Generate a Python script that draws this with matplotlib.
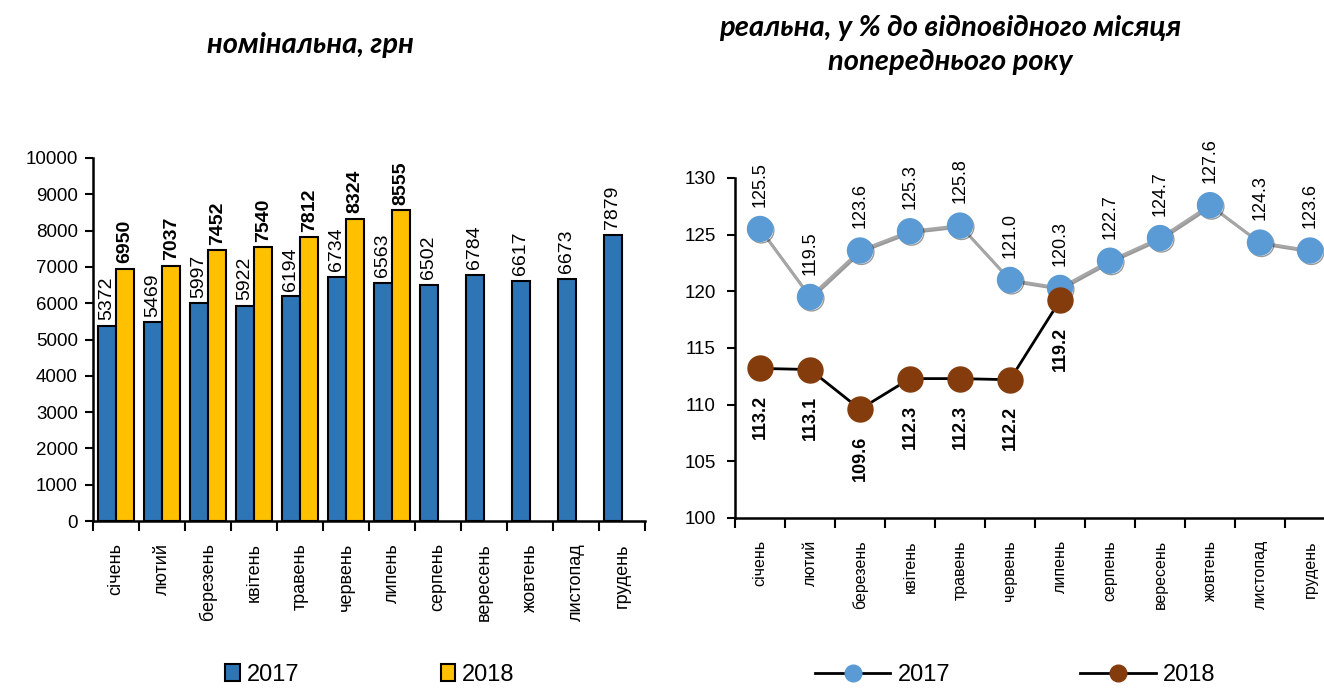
import numpy as np
import matplotlib
matplotlib.use("Agg")
import matplotlib.pyplot as plt
import matplotlib.patheffects as pe
from matplotlib.lines import Line2D

# дані
misyatsi = ["січень", "лютий", "березень", "квітень", "травень", "червень",
            "липень", "серпень", "вересень", "жовтень", "листопад", "грудень"]
nom_2017 = [5372, 5469, 5997, 5922, 6194, 6734, 6563, 6502, 6784, 6617, 6673, 7879]
nom_2018 = [6950, 7037, 7452, 7540, 7812, 8324, 8555]
real_2017 = [125.5, 119.5, 123.6, 125.3, 125.8, 121.0, 120.3, 122.7, 124.7, 127.6, 124.3, 123.6]
real_2018 = [113.2, 113.1, 109.6, 112.3, 112.3, 112.2, 119.2]
roky = ["2017", "2018"]

plt.rcParams['font.family'] = ['Liberation Sans', 'DejaVu Sans']
title_font = ['Lato', 'DejaVu Sans']

fig = plt.figure(figsize=(13.24, 6.88), dpi=100)

# ---- ліва діаграма: номінальна
ax1 = fig.add_axes([93/1324, 167/688, 552/1324, 363/688])
x = np.arange(len(misyatsi))
x18 = np.arange(len(nom_2018))
ax1.bar(x - 0.2, nom_2017, width=0.39, color='#2E75B6', edgecolor='black', linewidth=1.5, label=roky[0])
ax1.bar(x18 + 0.2, nom_2018, width=0.39, color='#FFC000', edgecolor='black', linewidth=1.5, label=roky[1])
for xi, v in zip(x, nom_2017):
    ax1.annotate(str(v), (xi - 0.2, v), xytext=(0, 4), textcoords='offset points',
                 rotation=90, ha='center', va='bottom', fontsize=14)
for xi, v in zip(x18, nom_2018):
    ax1.annotate(str(v), (xi + 0.2, v), xytext=(0, 4), textcoords='offset points',
                 rotation=90, ha='center', va='bottom', fontsize=14, fontweight='bold')
ax1.set_xlim(-0.5, 11.5)
ax1.set_ylim(0, 10000)
ax1.set_yticks(np.arange(0, 10001, 1000))
ax1.tick_params(axis='y', labelsize=13.5, width=1.5, length=6, pad=5)
ax1.set_xticks(x)
ax1.set_xticklabels(misyatsi, rotation=90, fontsize=13, va='top')
ax1.set_xticks(np.arange(-0.5, 12, 1), minor=True)
ax1.tick_params(axis='x', which='major', length=0, pad=16)
ax1.tick_params(axis='x', which='minor', length=7, width=1.5)
for s in ['top', 'right']:
    ax1.spines[s].set_visible(False)
for s in ['left', 'bottom']:
    ax1.spines[s].set_linewidth(1.8)
ax1.legend(loc='center', bbox_to_anchor=(370/1324, 1 - 675/688), bbox_transform=fig.transFigure,
           ncol=2, frameon=False, fontsize=17, handlelength=0.6, handleheight=0.75,
           handletextpad=0.3, columnspacing=6)
fig.text(310/1324, 1 - 45/688, "номінальна, грн", ha='center', va='center',
         fontsize=21, fontweight='bold', fontstyle='italic', family=title_font)

# ---- права діаграма: реальна
ax2 = fig.add_axes([735/1324, 170/688, 600/1324, 340/688])
x2 = np.arange(len(real_2018))
ax2.plot(x, real_2017, color='#A6A6A6', lw=2, marker='o', ms=18,
         mfc='#5B9BD5', mec='#5B9BD5',
         path_effects=[pe.SimpleLineShadow(offset=(1, -1), alpha=0.4), pe.Normal()])
ax2.plot(x2, real_2018, color='black', lw=2, marker='o', ms=18,
         mfc='#843C0C', mec='#843C0C')
for xi, v in zip(x, real_2017):
    ax2.annotate(f"{v:.1f}", (xi, v), xytext=(0, 16), textcoords='offset points',
                 rotation=90, ha='center', va='bottom', fontsize=13)
for xi, v in zip(x2, real_2018):
    ax2.annotate(f"{v:.1f}", (xi, v), xytext=(0, -19), textcoords='offset points',
                 rotation=90, ha='center', va='top', fontsize=13, fontweight='bold')
ax2.set_xlim(-0.5, 11.5)
ax2.set_ylim(100, 130)
ax2.set_yticks(np.arange(100, 131, 5))
ax2.tick_params(axis='y', labelsize=13.5, width=1.5, length=6, pad=8)
ax2.set_xticks(x)
ax2.set_xticklabels(misyatsi, rotation=90, fontsize=11.5, va='top')
ax2.set_xticks(np.arange(-0.5, 12, 1), minor=True)
ax2.tick_params(axis='x', which='major', length=0, pad=16)
ax2.tick_params(axis='x', which='minor', length=7, width=1.5)
for s in ['top', 'right']:
    ax2.spines[s].set_visible(False)
for s in ['left', 'bottom']:
    ax2.spines[s].set_linewidth(1.8)
handles = [Line2D([], [], color='black', lw=2, marker='o', ms=12, mfc='#5B9BD5', mec='#5B9BD5'),
           Line2D([], [], color='black', lw=2, marker='o', ms=12, mfc='#843C0C', mec='#843C0C')]
ax2.legend(handles, roky, loc='center', bbox_to_anchor=(1015/1324, 1 - 675/688),
           bbox_transform=fig.transFigure, ncol=2, frameon=False, fontsize=17,
           handlelength=3.2, handletextpad=0.3, columnspacing=5.5)
fig.text(950/1324, 1 - 28/688, "реальна, у % до відповідного місяця", ha='center', va='center',
         fontsize=21, fontweight='bold', fontstyle='italic', family=title_font)
fig.text(950/1324, 1 - 62/688, "попереднього року", ha='center', va='center',
         fontsize=21, fontweight='bold', fontstyle='italic', family=title_font)

fig.savefig("out.png", dpi=100)
